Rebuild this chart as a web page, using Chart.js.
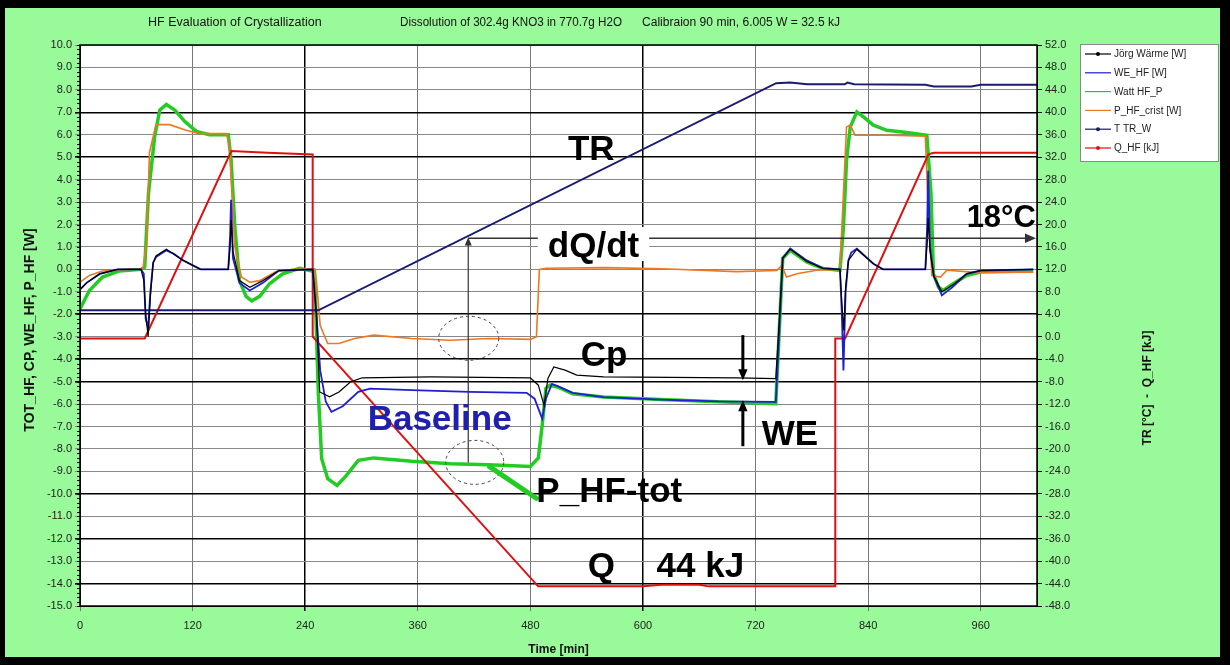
<!DOCTYPE html>
<html>
<head>
<meta charset="utf-8">
<script src="https://cdn.jsdelivr.net/npm/chart.js@4.4.1/dist/chart.umd.min.js"></script>
<style>
  html, body { margin: 0; padding: 0; background: #000; }
  canvas { display: block; }
</style>
</head>
<body>
<canvas id="hfChart" width="1230" height="665"></canvas>
<script>
// Datos (tiempo en min, potencia en W, TR en °C, Q en kJ)
const xTicks = [0, 120, 240, 360, 480, 600, 720, 840, 960];

const tCp = [0, 7, 21, 40, 65, 68, 70, 72.6, 75, 78, 81, 92, 110, 128.5, 158, 160, 161, 163, 170, 181, 195, 212, 248, 252, 255.5, 266, 276, 288.5, 300.8, 374, 480, 488.5, 494.6, 498.7, 505, 517, 529.4, 558, 700, 741.6, 745, 749, 757, 774.6, 792, 810, 812, 814, 816, 819, 828, 845.6, 856, 901, 903, 904, 906, 910, 918.6, 930, 945, 960, 1016];
const vCp = [-0.9, -0.6, -0.2, 0, 0, -0.5, -2.0, -3.0, -1.2, 0.3, 0.6, 0.9, 0.4, 0, 0, 1.0, 2.2, 0.8, -0.5, -0.8, -0.5, -0.05, 0, -2.0, -5.46, -5.68, -5.46, -5.01, -4.83, -4.79, -4.83, -5.16, -6.06, -4.86, -4.35, -4.49, -4.71, -4.79, -4.83, -4.87, -2.5, 0.5, 0.9, 0.35, 0.04, 0, -1.5, -2.72, -0.8, 0.4, 0.9, 0.25, 0, 0, 1.2, 2.3, 0.8, -0.3, -1.0, -0.7, -0.2, -0.05, 0];

const tWE = [0, 7, 21, 40, 65, 68, 70, 72.6, 75, 78, 81, 92, 100, 110, 128.5, 158, 160, 161, 163, 170, 181, 195, 212, 248, 252, 256, 262, 268, 280, 296.6, 309, 353.6, 415, 476, 484.5, 492.6, 496.6, 503, 509, 525, 558, 619, 680, 741.6, 745, 749, 757, 774.6, 792, 810, 812, 813.7, 816, 819, 822, 828, 845.6, 856, 901, 903, 904, 906, 910, 918.6, 930, 945, 960, 1016];
const vWE = [-0.9, -0.6, -0.2, 0, 0, -0.2, -2.2, -2.6, -1.0, 0.3, 0.55, 0.85, 0.7, 0.4, 0, 0, 1.5, 3.1, 0.5, -0.6, -0.94, -0.6, -0.05, 0, -2.0, -4.5, -5.9, -6.35, -6.1, -5.46, -5.31, -5.38, -5.46, -5.5, -5.76, -6.65, -5.76, -5.1, -5.2, -5.5, -5.69, -5.8, -5.88, -5.9, -3.0, 0.5, 0.93, 0.4, 0.05, 0, -2.0, -4.5, -1.0, 0.4, 0.75, 0.92, 0.25, 0, 0, 2.0, 4.4, 1.0, -0.3, -1.16, -0.79, -0.2, -0.05, 0];

const tTot = [0, 10, 24, 42, 65, 69, 73, 79.5, 85, 92, 101, 111.5, 124, 138, 158, 161, 165, 170, 177, 183, 191.5, 202, 216, 234, 250, 254, 257.6, 264, 274, 284, 296.6, 313, 353.6, 394.7, 435.5, 480, 488.5, 492.6, 496.6, 500.8, 509, 525, 558, 619, 680, 741.6, 745, 749, 757, 774.6, 792, 810, 813.7, 817, 821, 828, 835, 845.6, 860, 881, 902.6, 907, 909.6, 915, 920, 930.6, 945, 959.5, 1016];
const vTot = [-1.76, -0.94, -0.34, -0.07, 0, 0.1, 3.4, 5.9, 7.1, 7.35, 7.1, 6.6, 6.15, 6.0, 6.0, 4.9, 1.9, -0.5, -1.2, -1.4, -1.2, -0.64, -0.2, 0.05, -0.1, -5.5, -8.44, -9.33, -9.63, -9.18, -8.51, -8.4, -8.55, -8.66, -8.7, -8.78, -8.4, -6.95, -5.3, -5.16, -5.24, -5.54, -5.69, -5.8, -5.9, -5.98, -3.0, 0.5, 0.85, 0.33, 0.04, -0.04, 1.89, 4.87, 6.35, 7.02, 6.8, 6.43, 6.2, 6.1, 5.98, 3.38, -0.19, -0.79, -0.94, -0.64, -0.27, -0.12, -0.07];

const tCrist = [0, 10, 24, 49, 67, 71, 74, 81, 95.5, 113, 127.5, 156, 159.5, 165, 172, 181, 191.5, 209, 227, 250, 252, 256, 264, 276, 292.6, 313, 353.6, 394.7, 435.5, 480, 486.5, 489.6, 497, 560, 620, 700, 742.6, 748, 753, 764, 785, 810, 813.7, 817, 821, 826, 863.5, 901, 904, 908, 917, 924, 952, 1016];
const vCrist = [-0.57, -0.27, -0.07, 0, 0.03, 1.15, 5.2, 6.45, 6.45, 6.2, 6.05, 6.05, 5.5, 1.0, -0.34, -0.57, -0.5, -0.1, 0, 0.03, -0.5, -2.5, -3.3, -3.3, -3.08, -2.93, -3.08, -3.16, -3.08, -3.12, -3.0, 0, 0.05, 0.08, 0.03, -0.1, -0.05, 0.18, -0.34, -0.19, -0.04, 0, 3.38, 6.35, 6.43, 5.98, 5.98, 5.94, 2.63, -0.27, -0.34, -0.04, -0.12, -0.12];

const tTR = [0, 254, 742, 757, 775, 815, 818, 825, 901, 910, 950, 960, 1020];
const vTR = [4.7, 4.7, 45.2, 45.3, 45.0, 45.0, 45.3, 45.0, 44.9, 44.6, 44.6, 44.9, 44.9];

const tQ = [0, 69, 161.3, 200, 248, 248, 488.3, 600, 620, 660, 670, 805, 805, 815.5, 904.3, 910, 1020];
const vQ = [-0.3, -0.3, 33.1, 32.8, 32.5, 0, -44.5, -44.5, -44.2, -44.2, -44.5, -44.5, -0.3, -0.3, 32.5, 32.8, 32.8];

// Anotaciones del gráfico
const labels = [
    { text: 'TR', t: 520, v: 4.88 },
    { text: 'dQ/dt', t: 498.6, v: 0.55, bg: true },
    { text: 'Cp', t: 533.8, v: -4.31 },
    { text: 'Baseline', t: 306.6, v: -7.16, color: '#2020b0' },
    { text: 'WE', t: 726.7, v: -7.84 },
    { text: 'P_HF-tot', t: 486.4, v: -10.35 },
    { text: 'Q', t: 541.2, v: -13.72 },
    { text: '44 kJ', t: 614.5, v: -13.72 },
    { text: '18°C', t: 945, v: 1.89, size: 31 }
];

const darkY = [7, 5, -2, -4, -5, -10, -12, -14];
const darkX = [240, 600];

const SANS = '"Liberation Sans", Arial, sans-serif';

const pts = (t, v) => t.map((x, i) => ({ x: x, y: v[i] }));

function arrow(ctx, x1, y1, x2, y2, head, width, color) {
    const a = Math.atan2(y2 - y1, x2 - x1);
    ctx.save();
    ctx.strokeStyle = color;
    ctx.fillStyle = color;
    ctx.lineWidth = width;
    ctx.beginPath();
    ctx.moveTo(x1, y1);
    ctx.lineTo(x2 - Math.cos(a) * head * 0.8, y2 - Math.sin(a) * head * 0.8);
    ctx.stroke();
    ctx.beginPath();
    ctx.moveTo(x2, y2);
    ctx.lineTo(x2 - head * Math.cos(a - 0.4), y2 - head * Math.sin(a - 0.4));
    ctx.lineTo(x2 - head * Math.cos(a + 0.4), y2 - head * Math.sin(a + 0.4));
    ctx.closePath();
    ctx.fill();
    ctx.restore();
}

// Fondo verde con marco negro
const framePlugin = {
    id: 'frame',
    beforeDraw(chart) {
        const ctx = chart.ctx;
        const a = chart.chartArea;
        ctx.save();
        ctx.fillStyle = '#000';
        ctx.fillRect(0, 0, chart.width, chart.height);
        ctx.fillStyle = '#98fa98';
        ctx.fillRect(5, 8, 1215, 649);
        ctx.fillStyle = '#fff';
        ctx.fillRect(a.left, a.top, a.right - a.left, a.bottom - a.top);
        ctx.restore();
    }
};

// Flechas, círculos y textos grandes
const annotationPlugin = {
    id: 'notes',
    afterDatasetsDraw(chart) {
        const ctx = chart.ctx;
        const sx = chart.scales.x, sy = chart.scales.y;
        const X = t => sx.getPixelForValue(t);
        const Y = v => sy.getPixelForValue(v);
        ctx.save();

        // línea 18 °C
        arrow(ctx, X(413.8), Y(1.39), X(1020) - 1, Y(1.39), 12, 1.5, '#333');
        // flecha vertical dQ/dt
        arrow(ctx, X(413.8), Y(-8.6), X(413.8), Y(1.43), 9, 1.2, '#333');

        // círculos punteados
        ctx.strokeStyle = '#444';
        ctx.lineWidth = 1;
        ctx.setLineDash([3, 3]);
        ctx.beginPath();
        ctx.ellipse(X(414.3), Y(-3.07), 30, 22, 0, 0, Math.PI * 2);
        ctx.stroke();
        ctx.beginPath();
        ctx.ellipse(X(420.7), Y(-8.6), 29, 22, 0, 0, Math.PI * 2);
        ctx.stroke();
        ctx.setLineDash([]);

        // flechas WE
        arrow(ctx, X(706.5), Y(-2.93), X(706.5), Y(-4.94), 12, 3, '#000');
        arrow(ctx, X(706.5), Y(-7.88), X(706.5), Y(-5.83), 12, 3, '#000');

        // puntero verde hacia la etiqueta
        ctx.strokeStyle = '#22cc22';
        ctx.lineWidth = 5;
        ctx.lineCap = 'round';
        ctx.beginPath();
        ctx.moveTo(X(436.5), Y(-8.79));
        ctx.lineTo(X(486.3), Y(-10.2));
        ctx.stroke();

        labels.forEach(l => {
            ctx.font = 'bold ' + (l.size || 35) + 'px ' + SANS;
            ctx.textBaseline = 'alphabetic';
            ctx.textAlign = 'left';
            const x = X(l.t), y = Y(l.v);
            if (l.bg) {
                const w = ctx.measureText(l.text).width;
                ctx.fillStyle = '#fff';
                ctx.fillRect(x - 10, y - 30, w + 20, 34);
            }
            ctx.fillStyle = l.color || '#000';
            ctx.fillText(l.text, x, y);
        });
        ctx.restore();
    },
    afterDraw(chart) {
        const ctx = chart.ctx;
        const a = chart.chartArea;
        const sy = chart.scales.y;
        ctx.save();
        ctx.strokeStyle = '#000';
        ctx.lineWidth = 1.5;
        ctx.strokeRect(a.left, a.top, a.right - a.left, a.bottom - a.top);

        // marcas menores del eje izquierdo
        ctx.lineWidth = 1;
        ctx.beginPath();
        for (let v = -15; v <= 10.001; v += 0.2) {
            const y = Math.round(sy.getPixelForValue(v)) + 0.5;
            ctx.moveTo(a.left - 3, y);
            ctx.lineTo(a.left, y);
        }
        ctx.stroke();

        // título
        ctx.fillStyle = '#111';
        ctx.font = '12.5px ' + SANS;
        ctx.textBaseline = 'middle';
        ctx.textAlign = 'left';
        ctx.fillText('HF Evaluation of Crystallization', 148, 23, 205);
        ctx.fillText('Dissolution of 302.4g KNO3 in 770.7g H2O', 400, 23, 222);
        ctx.fillText('Calibraion 90 min, 6.005 W = 32.5 kJ', 642, 23, 198);

        // títulos de ejes
        ctx.font = 'bold 12px ' + SANS;
        ctx.textAlign = 'center';
        ctx.fillText('Time [min]', (a.left + a.right) / 2, 650, 70);
        ctx.save();
        ctx.translate(30, 330);
        ctx.rotate(-Math.PI / 2);
        ctx.font = 'bold 14px ' + SANS;
        ctx.fillText('TOT_HF, CP, WE_HF, P_HF [W]', 0, 0, 250);
        ctx.restore();
        ctx.save();
        ctx.translate(1148, 388);
        ctx.rotate(-Math.PI / 2);
        ctx.font = 'bold 12px ' + SANS;
        ctx.fillText('TR [°C]  -  Q_HF [kJ]', 0, 0, 155);
        ctx.restore();

        // leyenda
        const lx = 1080, ly = 44, lw = 138, lh = 117;
        ctx.fillStyle = '#fff';
        ctx.fillRect(lx, ly, lw, lh);
        ctx.strokeStyle = '#888';
        ctx.lineWidth = 1;
        ctx.strokeRect(lx + 0.5, ly + 0.5, lw, lh);
        ctx.font = '10px ' + SANS;
        ctx.textAlign = 'left';
        chart.data.datasets.forEach((ds, i) => {
            const y = ly + 10 + i * 18.8;
            ctx.strokeStyle = ds.borderColor;
            ctx.fillStyle = ds.borderColor;
            ctx.lineWidth = 1.2;
            ctx.beginPath();
            ctx.moveTo(lx + 5, y);
            ctx.lineTo(lx + 31, y);
            ctx.stroke();
            if (ds.legendMarker) {
                ctx.beginPath();
                ctx.arc(lx + 18, y, 2, 0, Math.PI * 2);
                ctx.fill();
            }
            ctx.fillStyle = '#222';
            ctx.fillText(ds.label, lx + 34, y + 0.5, 98);
        });
        ctx.restore();
    }
};

new Chart(document.getElementById('hfChart'), {
    type: 'line',
    data: {
        datasets: [
            { label: 'Jörg Wärme [W]', data: pts(tCp, vCp), borderColor: '#000000', borderWidth: 1.2, yAxisID: 'y', order: 1, legendMarker: true },
            { label: 'WE_HF [W]', data: pts(tWE, vWE), borderColor: '#1e1ed2', borderWidth: 1.8, yAxisID: 'y', order: 2 },
            { label: 'Watt HF_P', data: pts(tTot, vTot), borderColor: '#22cc22', borderWidth: 3.5, yAxisID: 'y', order: 6 },
            { label: 'P_HF_crist [W]', data: pts(tCrist, vCrist), borderColor: '#ee7722', borderWidth: 1.6, yAxisID: 'y', order: 5 },
            { label: 'T TR_W', data: pts(tTR, vTR), borderColor: '#1a1a70', borderWidth: 2, yAxisID: 'y2', order: 3, legendMarker: true },
            { label: 'Q_HF [kJ]', data: pts(tQ, vQ), borderColor: '#e01010', borderWidth: 2, yAxisID: 'y2', order: 4, legendMarker: true }
        ]
    },
    options: {
        responsive: false,
        animation: false,
        devicePixelRatio: 1,
        layout: { padding: { left: 0, right: 0, top: 45, bottom: 0 } },
        elements: { point: { radius: 0 }, line: { tension: 0 } },
        plugins: { legend: { display: false }, tooltip: { enabled: false } },
        scales: {
            x: {
                type: 'linear',
                min: 0,
                max: 1020,
                afterBuildTicks: axis => { axis.ticks = xTicks.map(v => ({ value: v })); },
                afterFit: axis => { axis.height = 59; },
                grid: {
                    color: c => darkX.includes(c.tick && c.tick.value) ? '#000' : '#777',
                    lineWidth: c => darkX.includes(c.tick && c.tick.value) ? 1.5 : 1,
                    tickLength: 5
                },
                border: { color: '#000' },
                ticks: { font: { family: SANS, size: 11 }, color: '#222', padding: 8, maxRotation: 0 }
            },
            y: {
                position: 'left',
                min: -15,
                max: 10,
                ticks: { stepSize: 1, font: { family: SANS, size: 11 }, color: '#222', padding: 3, callback: v => v.toFixed(1) },
                afterFit: axis => { axis.width = 80; },
                grid: {
                    color: c => darkY.includes(c.tick && c.tick.value) ? '#000' : '#888',
                    lineWidth: c => darkY.includes(c.tick && c.tick.value) ? 1.6 : 1,
                    tickLength: 5
                },
                border: { color: '#000' }
            },
            y2: {
                position: 'right',
                min: -48,
                max: 52,
                ticks: { stepSize: 4, font: { family: SANS, size: 11 }, color: '#222', padding: 3, callback: v => v.toFixed(1) },
                afterFit: axis => { axis.width = 193; },
                grid: { drawOnChartArea: false, color: '#000', tickLength: 5 },
                border: { color: '#000' }
            }
        }
    },
    plugins: [framePlugin, annotationPlugin]
});
</script>
</body>
</html>
